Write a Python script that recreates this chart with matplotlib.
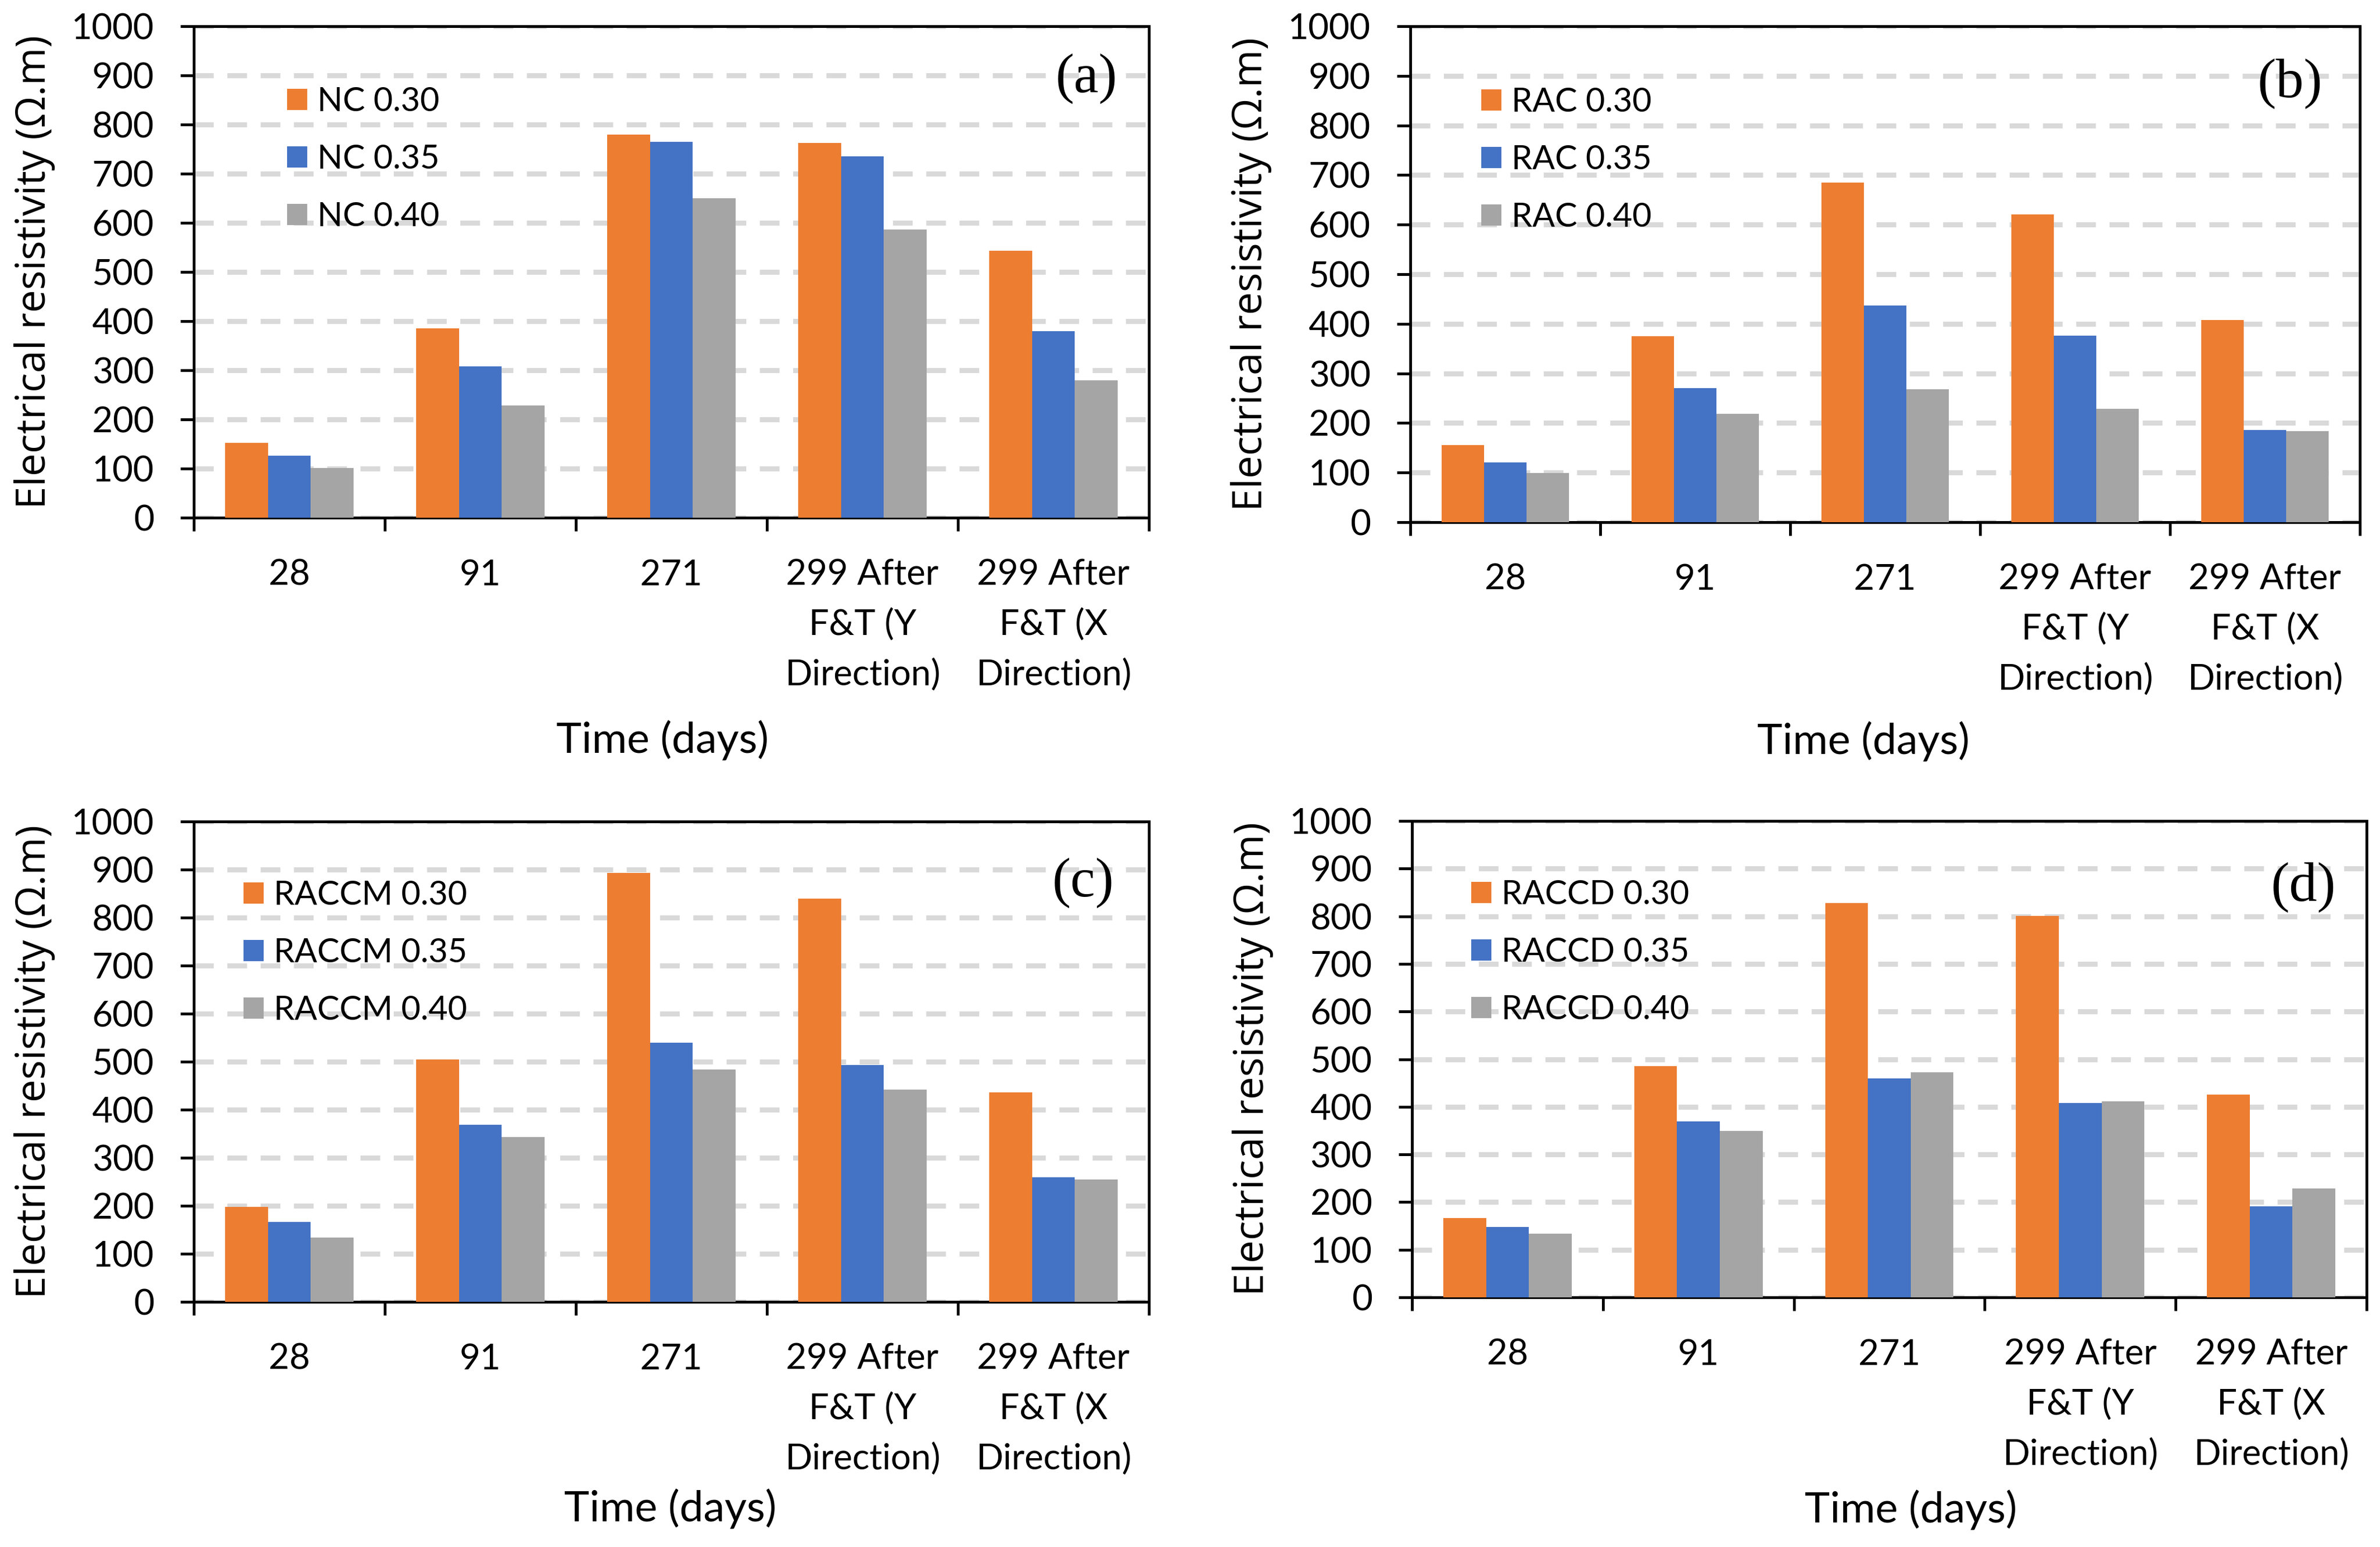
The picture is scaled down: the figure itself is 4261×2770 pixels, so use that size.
import matplotlib

matplotlib.use("Agg")
import matplotlib.pyplot as plt
import numpy as np
from matplotlib.ticker import FixedLocator, NullFormatter

# categories on the x axis
categories = ["28", "91", "271", "299 After\nF&T (Y\nDirection)", "299 After\nF&T (X\nDirection)"]

# (a) normal concrete
nc_030 = [152, 385, 780, 762, 543]
nc_035 = [126, 308, 765, 735, 380]
nc_040 = [101, 228, 650, 586, 280]

# (b) recycled aggregate concrete
rac_030 = [155, 375, 685, 620, 408]
rac_035 = [120, 270, 437, 376, 186]
rac_040 = [99, 218, 268, 229, 183]

# (c) RACCM
raccm_030 = [198, 505, 893, 840, 436]
raccm_035 = [166, 369, 540, 493, 259]
raccm_040 = [134, 343, 484, 442, 255]

# (d) RACCD
raccd_030 = [166, 485, 828, 801, 426]
raccd_035 = [148, 369, 459, 408, 191]
raccd_040 = [134, 349, 472, 411, 229]

y_ticks = list(range(0, 1001, 100))

COLORS = ["#ED7D31", "#4472C4", "#A5A5A5"]
GRID_COLOR = "#D9D9D9"
BAR_W = 0.224

W_PX, H_PX = 4261, 2770
DPI = 100

TICK_FONT = ["Lato", "DejaVu Sans"]
YLAB_FONT = ["Open Sans", "DejaVu Sans"]
LETTER_FONT = ["Liberation Serif", "DejaVu Serif"]

# panel layout in pixels: left, top, right, bottom
# leg = (handle left px, first row centre px), let = (right edge px, centre px)
PANELS = [
    dict(box=(347, 47, 2057, 927), prefix="NC", data=(nc_030, nc_035, nc_040), letter="(a)",
         leg=(514, 182), let=(2001, 141), xlab=(1186, 1290)),
    dict(box=(2525, 47, 4225, 935), prefix="RAC", data=(rac_030, rac_035, rac_040), letter="(b)",
         leg=(2652, 183), let=(4158, 150), xlab=(3336, 1292)),
    dict(box=(347, 1471, 2057, 2331), prefix="RACCM", data=(raccm_030, raccm_035, raccm_040), letter="(c)",
         leg=(436, 1603), let=(1994, 1581), xlab=(1200, 2666)),
    dict(box=(2528, 1470, 4237, 2323), prefix="RACCD", data=(raccd_030, raccd_035, raccd_040), letter="(d)",
         leg=(2634, 1602), let=(4182, 1589), xlab=(3421, 2668)),
]
WR = ["0.30", "0.35", "0.40"]


def draw_panel(fig, p):
    l, t, r, b = p["box"]
    w, h = r - l, b - t
    ax = fig.add_axes([l / W_PX, 1 - b / H_PX, w / W_PX, h / H_PX])
    x = np.arange(len(categories))
    for i, vals in enumerate(p["data"]):
        ax.bar(x + (i - 1) * BAR_W, vals, BAR_W, color=COLORS[i], label=f"{p['prefix']} {WR[i]}", zorder=3)

    ax.set_xlim(-0.5, len(categories) - 0.5)
    ax.set_ylim(0, 1000)
    ax.set_yticks(y_ticks)
    ax.set_yticklabels([str(v) for v in y_ticks], fontfamily=TICK_FONT, fontsize=46)

    # boundaries get the tick marks, centres get the labels
    ax.xaxis.set_major_locator(FixedLocator(np.arange(-0.5, len(categories), 1.0)))
    ax.xaxis.set_major_formatter(NullFormatter())
    ax.xaxis.set_minor_locator(FixedLocator(x))
    ax.set_xticklabels(categories, minor=True, fontfamily=TICK_FONT, fontsize=46, linespacing=1.64)
    ax.tick_params(axis="x", which="major", length=17.3, width=3.6, direction="out")
    ax.tick_params(axis="x", which="minor", length=0, pad=53)
    ax.tick_params(axis="y", length=17.3, width=3.6, direction="out", pad=34)

    for sp in ax.spines.values():
        sp.set_linewidth(3.6)
        sp.set_color("black")

    ax.yaxis.grid(True, color=GRID_COLOR, linewidth=6.5, linestyle=(0, (3.9, 2.7)), zorder=0)
    ax.set_axisbelow(True)

    ax.set_ylabel("Electrical resistivity (Ω.m)", fontfamily=YLAB_FONT, fontsize=52.5)
    ax.yaxis.set_label_coords(-248 / w, 0.5)
    ax.set_xlabel("Time (days)", fontfamily=TICK_FONT, fontsize=55)
    ax.xaxis.set_label_coords((p["xlab"][0] - l) / w, (b - p["xlab"][1]) / h)

    hx, hy = p["leg"]
    ax.legend(loc="upper left", bbox_to_anchor=((hx - l) / w, (b - (hy - 27)) / h), frameon=False,
              prop={"family": TICK_FONT, "size": 43}, handlelength=0.6, handleheight=0.6,
              handletextpad=0.3, labelspacing=0.82, borderpad=0, borderaxespad=0)

    lx, ly = p["let"]
    ax.text((lx - l) / w, (b - ly) / h, p["letter"], transform=ax.transAxes,
            ha="right", va="center", fontfamily=LETTER_FONT, fontsize=72)
    return ax


def main():
    fig = plt.figure(figsize=(W_PX / DPI, H_PX / DPI), dpi=DPI)
    for p in PANELS:
        draw_panel(fig, p)
    fig.savefig("out.png", dpi=DPI, facecolor="white")
    plt.close(fig)


if __name__ == "__main__":
    main()
